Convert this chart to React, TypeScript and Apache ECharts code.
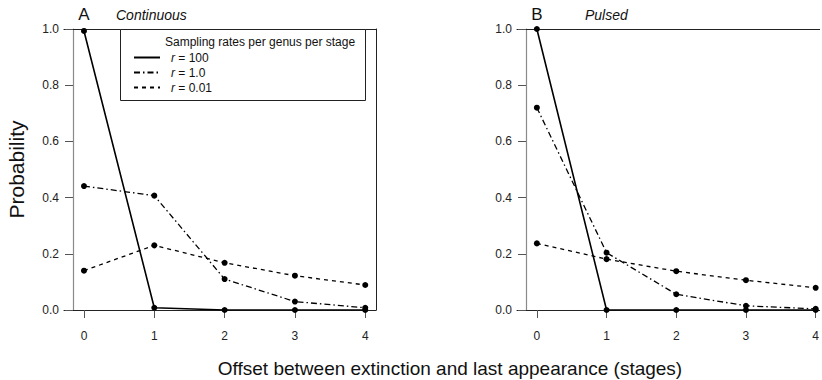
import React, { useEffect, useRef } from "react";
import * as echarts from "echarts";

const offsets = [0, 1, 2, 3, 4];
const seriesNames = ["r = 100", "r = 1.0", "r = 0.01"];

// Panel A: Continuous
const contR100 = [0.993, 0.008, 0, 0, 0];
const contR1 = [0.441, 0.407, 0.11, 0.03, 0.008];
const contR001 = [0.14, 0.23, 0.168, 0.122, 0.089];

// Panel B: Pulsed
const pulsR100 = [1.0, 0, 0, 0, 0];
const pulsR1 = [0.72, 0.204, 0.056, 0.015, 0.004];
const pulsR001 = [0.237, 0.181, 0.138, 0.106, 0.079];

const FONT = "Liberation Sans, Arial, Helvetica, sans-serif";

const dashes: any[] = ["solid", [6, 3, 1.5, 3], [4, 4]];
const widths = [1.6, 1.3, 1.3];

export default function App() {
  const ref = useRef<HTMLDivElement>(null);
  useEffect(() => {
    if (!ref.current) return;
    const chart = echarts.init(ref.current, null, { renderer: "svg" });

    const mkSeries = (name: string, data: number[], idx: number, axisIdx: number) => ({
      type: "line",
      name,
      xAxisIndex: axisIdx,
      yAxisIndex: axisIdx,
      data: offsets.map((x, i) => [x, data[i]]),
      symbol: "circle",
      symbolSize: 6,
      itemStyle: { color: "#000" },
      lineStyle: { color: "#000", width: widths[idx], type: dashes[idx] },
      z: 3,
    });

    const xBase = (gridIndex: number, min: number, max: number) => ({
      type: "value",
      gridIndex,
      min,
      max,
      position: "bottom",
      axisLine: { show: true, lineStyle: { color: "#222", width: 1 } },
      axisTick: { show: true, customValues: offsets, length: 8, lineStyle: { color: "#555" } },
      axisLabel: { customValues: offsets, margin: 20, fontFamily: FONT, fontSize: 12, color: "#222" },
      splitLine: { show: false },
    });
    const xTop = (gridIndex: number, min: number, max: number) => ({
      type: "value",
      gridIndex,
      min,
      max,
      position: "top",
      axisLine: { show: true, onZero: false, lineStyle: { color: "#222", width: 1 } },
      axisTick: { show: false },
      axisLabel: { show: false },
      splitLine: { show: false },
    });
    const yBase = (gridIndex: number, withName: boolean) => ({
      type: "value",
      gridIndex,
      min: 0,
      max: 1,
      interval: 0.2,
      offset: -9,
      name: withName ? "Probability" : "",
      nameLocation: "middle",
      nameGap: 46,
      nameTextStyle: { fontFamily: FONT, fontSize: 21, color: "#111" },
      axisLine: { show: true, onZero: false, lineStyle: { color: "#8a8a8a", width: 1.2 } },
      axisTick: { show: true, length: 8, lineStyle: { color: "#555" } },
      axisLabel: {
        margin: 14,
        fontFamily: FONT,
        fontSize: 12,
        color: "#222",
        formatter: (v: number) => v.toFixed(1),
      },
      splitLine: { show: false },
    });

    const option: any = {
      animation: false,
      backgroundColor: "#fff",
      grid: [
        { left: 64, right: 446, top: 29, bottom: 70 },
        { left: 517, right: 0, top: 29, bottom: 70 },
      ],
      xAxis: [
        xBase(0, -0.284, 4.153),
        xBase(1, -0.285, 4.057),
        xTop(0, -0.284, 4.153),
        xTop(1, -0.285, 4.057),
      ],
      yAxis: [
        yBase(0, true),
        yBase(1, false),
        {
          type: "value",
          gridIndex: 0,
          min: 0,
          max: 1,
          position: "right",
          axisLine: { show: true, onZero: false, lineStyle: { color: "#222", width: 1 } },
          axisTick: { show: false },
          axisLabel: { show: false },
          splitLine: { show: false },
        },
      ],
      legend: {
        data: seriesNames,
        orient: "vertical",
        left: 128,
        top: 46,
        itemWidth: 26,
        itemHeight: 10,
        itemGap: 2,
        itemStyle: { opacity: 0 },
        textStyle: {
          fontFamily: FONT,
          fontSize: 12,
          lineHeight: 13,
          color: "#111",
          padding: [0, 0, 0, 6],
          rich: { i: { fontStyle: "italic", fontFamily: FONT, fontSize: 12, lineHeight: 13, color: "#111" } },
        },
        formatter: (n: string) => "{i|r}" + n.slice(1),
        selectedMode: false,
      },
      graphic: [
        {
          type: "rect",
          shape: { x: 120.5, y: 29.5, width: 245, height: 71 },
          style: { fill: "#fff", stroke: "#222", lineWidth: 1 },
          z: 1,
        },
        {
          type: "text",
          x: 165,
          y: 42,
          style: { text: "Sampling rates per genus per stage", font: `12px ${FONT}`, fill: "#111", verticalAlign: "middle" },
          z: 2,
        },
        {
          type: "text",
          x: 84,
          y: 14,
          style: { text: "A", font: `17px ${FONT}`, fill: "#111", align: "center", verticalAlign: "middle" },
        },
        {
          type: "text",
          x: 116,
          y: 15,
          style: { text: "Continuous", font: `italic 14px ${FONT}`, fill: "#111", verticalAlign: "middle" },
        },
        {
          type: "text",
          x: 537,
          y: 14,
          style: { text: "B", font: `17px ${FONT}`, fill: "#111", align: "center", verticalAlign: "middle" },
        },
        {
          type: "text",
          x: 585,
          y: 15,
          style: { text: "Pulsed", font: `italic 14px ${FONT}`, fill: "#111", verticalAlign: "middle" },
        },
        {
          type: "text",
          x: 450,
          y: 368,
          style: {
            text: "Offset between extinction and last appearance (stages)",
            font: `19px ${FONT}`,
            fill: "#111",
            align: "center",
            verticalAlign: "middle",
          },
        },
      ],
      series: [
        mkSeries(seriesNames[0], contR100, 0, 0),
        mkSeries(seriesNames[1], contR1, 1, 0),
        mkSeries(seriesNames[2], contR001, 2, 0),
        mkSeries(seriesNames[0], pulsR100, 0, 1),
        mkSeries(seriesNames[1], pulsR1, 1, 1),
        mkSeries(seriesNames[2], pulsR001, 2, 1),
      ],
    };
    chart.setOption(option);
    return () => chart.dispose();
  }, []);
  return <div ref={ref} style={{ width: 822, height: 380, position: "absolute", left: 0, top: 0 }} />;
}
